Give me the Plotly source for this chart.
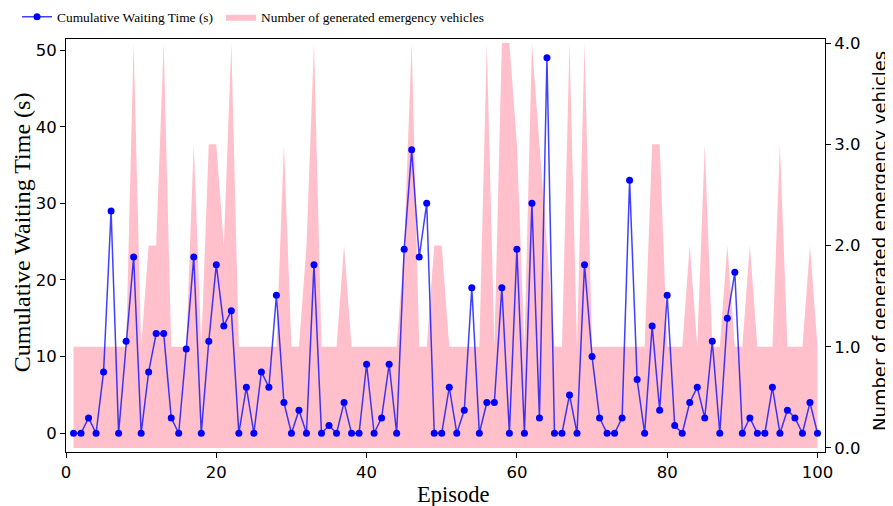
import plotly.graph_objects as go

episodes = list(range(1, 101))

waiting_time = [0, 0, 2, 0, 8, 29, 0, 12, 23, 0,
                8, 13, 13, 2, 0, 11, 23, 0, 12, 22,
                14, 16, 0, 6, 0, 8, 6, 18, 4, 0,
                3, 0, 22, 0, 1, 0, 4, 0, 0, 9,
                0, 2, 9, 0, 24, 37, 23, 30, 0, 0,
                6, 0, 3, 19, 0, 4, 4, 19, 0, 24,
                0, 30, 2, 49, 0, 0, 5, 0, 22, 10,
                2, 0, 0, 2, 33, 7, 0, 14, 3, 18,
                1, 0, 4, 6, 2, 12, 0, 15, 21, 0,
                2, 0, 0, 6, 0, 3, 2, 0, 4, 0]

vehicles = [1, 1, 1, 1, 1, 1, 1, 1, 4, 1,
            2, 2, 4, 1, 1, 1, 3, 1, 3, 3,
            2, 4, 1, 1, 1, 1, 1, 1, 3, 1,
            1, 2, 4, 1, 1, 1, 2, 1, 1, 1,
            1, 1, 1, 1, 2, 4, 1, 1, 2, 2,
            1, 1, 1, 1, 1, 4, 1, 4, 4, 3,
            1, 4, 3, 2, 1, 1, 4, 1, 4, 1,
            1, 1, 1, 1, 1, 1, 1, 3, 3, 1,
            1, 1, 2, 1, 3, 1, 1, 2, 1, 1,
            2, 1, 1, 1, 3, 1, 1, 1, 2, 1]

left_ticks = [0, 10, 20, 30, 40, 50]
right_ticks = [0, 1, 2, 3, 4]
right_tick_text = ["0.0", "1.0", "2.0", "3.0", "4.0"]
x_ticks = [0, 20, 40, 60, 80, 100]

x_title = "Episode"
left_title = "Cumulative Waiting Time (s)"
right_title = "Number of generated emergency vehicles"

tick_font = dict(family="DejaVu Sans", size=16.5, color="black")
serif = "Liberation Serif"
legend_font = dict(family=serif, size=13.4, color="black")

fig = go.Figure()
fig.add_trace(go.Scatter(
    x=episodes, y=vehicles, mode="lines",
    line=dict(width=0, color="pink"), fill="tozeroy", fillcolor="pink",
    name=right_title, yaxis="y", legend="legend2"))
fig.add_trace(go.Scatter(
    x=episodes, y=waiting_time, mode="lines+markers",
    line=dict(color="rgba(0,0,255,0.75)", width=1.5),
    marker=dict(color="blue", size=7),
    name=left_title, yaxis="y2", legend="legend"))

axis_common = dict(showgrid=False, zeroline=False, automargin=False,
                   showline=True, linecolor="black", linewidth=1,
                   ticks="outside", ticklen=5, tickcolor="black", tickfont=tick_font)

fig.update_layout(
    width=885, height=498,
    margin=dict(l=58, r=68, t=31, b=54, autoexpand=False),
    paper_bgcolor="white", plot_bgcolor="white",
    showlegend=True,
    legend=dict(orientation="h", x=0.0102, xref="container", y=0.982, yref="container",
                xanchor="left", yanchor="middle", font=legend_font,
                bgcolor="rgba(0,0,0,0)"),
    legend2=dict(orientation="h", x=0.2407, xref="container", y=0.982, yref="container",
                 xanchor="left", yanchor="middle", font=legend_font,
                 bgcolor="rgba(0,0,0,0)"),
    xaxis=dict(range=[0, 101], tickvals=x_ticks, mirror=True, **axis_common),
    yaxis=dict(range=[-0.04, 4.04], tickvals=right_ticks, ticktext=right_tick_text,
               side="right", mirror=True, **axis_common),
    yaxis2=dict(range=[-2.45, 51.45], tickvals=left_ticks, overlaying="y", side="left",
                **axis_common),
    annotations=[
        dict(text=x_title, xref="paper", yref="paper", x=0.511, y=-0.1017,
             xanchor="center", yanchor="middle", showarrow=False,
             font=dict(family=serif, size=22.5, color="black")),
        dict(text=left_title, xref="paper", yref="paper", x=-0.058, y=0.532,
             xanchor="center", yanchor="middle", showarrow=False, textangle=-90,
             font=dict(family=serif, size=24, color="black")),
        dict(text=right_title, xref="paper", yref="paper", x=1.0725, y=0.511,
             xanchor="center", yanchor="middle", showarrow=False, textangle=-90,
             font=dict(family="DejaVu Sans", size=18, color="black")),
    ],
)

fig.write_html("out.html")
